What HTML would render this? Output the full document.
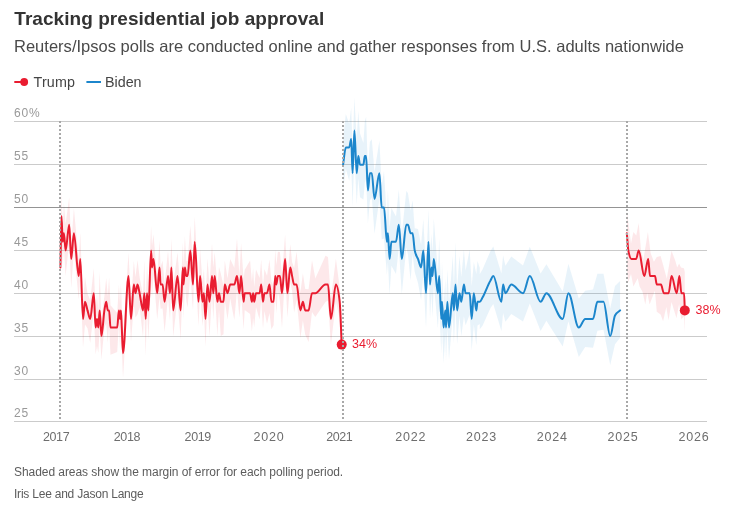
<!DOCTYPE html>
<html><head><meta charset="utf-8"><title>Tracking presidential job approval</title>
<style>
html,body{margin:0;padding:0;background:#fff}
body{width:741px;height:525px;position:relative;overflow:hidden;font-family:"Liberation Sans",sans-serif}
.t{position:absolute;white-space:nowrap;line-height:1}
.title{left:14.3px;top:9px;font-size:19px;font-weight:bold;color:#333;letter-spacing:0.05px}
.sub{left:14px;top:37.8px;font-size:16.5px;color:#4a4a4a;letter-spacing:0.015px}
.leg{font-size:14.3px;color:#454545;top:75px}
.yl{left:14px;font-size:12px;color:#999;letter-spacing:0.8px}
.xl{font-size:12.5px;color:#6e6e6e;top:431px}
.note{left:14px;font-size:12px;color:#5c5c5c}
.val{font-size:12.5px;color:#e91c30}
</style></head><body>
<svg width="741" height="525" viewBox="0 0 741 525" style="position:absolute;left:0;top:0">
<line x1="14" x2="707" y1="421.5" y2="421.5" stroke="#cbcbcb" stroke-width="1"/>
<line x1="14" x2="707" y1="379.5" y2="379.5" stroke="#cbcbcb" stroke-width="1"/>
<line x1="14" x2="707" y1="336.5" y2="336.5" stroke="#cbcbcb" stroke-width="1"/>
<line x1="14" x2="707" y1="293.5" y2="293.5" stroke="#cbcbcb" stroke-width="1"/>
<line x1="14" x2="707" y1="250.5" y2="250.5" stroke="#cbcbcb" stroke-width="1"/>
<line x1="14" x2="707" y1="207.5" y2="207.5" stroke="#949494" stroke-width="1"/>
<line x1="14" x2="707" y1="164.5" y2="164.5" stroke="#cbcbcb" stroke-width="1"/>
<line x1="14" x2="707" y1="121.5" y2="121.5" stroke="#cbcbcb" stroke-width="1"/>
<path d="M60.4,252.4 L61.5,190.6 L62.7,227.7 L63.9,203.3 L65.6,224.1 L69.2,197.3 L71.2,244.6 L73.9,208.5 L78.7,260.0 L80.3,232.7 L83.0,303.2 L85.0,276.8 L87.5,293.5 L90.2,300.2 L93.8,268.2 L95.6,310.0 L97.0,293.1 L98.3,310.1 L99.7,272.0 L101.4,319.0 L104.4,295.9 L106.2,278.1 L107.8,296.1 L109.1,277.5 L110.5,305.3 L117.2,313.0 L118.9,284.7 L120.0,302.9 L120.9,283.9 L121.8,306.2 L123.0,337.7 L128.5,252.7 L131.0,303.8 L133.8,261.0 L135.5,276.9 L137.5,259.9 L139.6,277.2 L143.0,295.2 L144.3,260.0 L145.7,302.9 L147.0,264.3 L148.4,292.4 L151.1,225.8 L152.0,245.8 L153.5,234.3 L157.2,279.4 L159.5,240.0 L160.6,266.8 L162.6,260.7 L164.6,284.1 L168.0,251.0 L170.0,276.0 L171.4,238.7 L173.2,285.1 L177.5,252.4 L180.6,291.1 L182.9,242.2 L183.6,265.3 L184.9,236.0 L186.3,261.3 L187.6,261.1 L190.3,225.4 L193.0,260.8 L194.7,216.4 L198.5,283.9 L200.1,249.1 L202.5,281.9 L203.9,269.0 L205.5,299.6 L207.5,258.5 L209.5,285.6 L212.0,243.3 L213.3,267.5 L214.7,252.2 L217.4,286.0 L219.0,267.0 L220.8,273.4 L223.5,286.0 L224.8,260.6 L227.5,278.6 L230.2,258.9 L234.3,267.8 L237.0,238.4 L239.4,275.6 L241.1,243.0 L243.6,279.0 L244.7,269.7 L250.1,260.4 L251.9,281.8 L253.1,268.1 L254.2,286.9 L256.0,269.6 L259.6,278.1 L261.2,259.4 L263.0,287.0 L264.4,269.0 L267.0,275.8 L269.5,259.4 L271.4,281.5 L273.6,286.3 L275.2,249.8 L276.3,265.2 L277.9,251.7 L279.9,252.0 L282.0,274.7 L285.1,234.4 L287.4,277.1 L290.3,244.3 L292.1,262.2 L294.1,267.9 L296.6,251.7 L300.4,292.4 L302.9,273.2 L305.2,289.0 L308.6,289.3 L312.0,260.3 L315.3,278.5 L325.5,255.8 L328.0,256.9 L330.9,298.8 L335.9,258.7 L339.7,287.7 L341.7,316.4 L341.7,360.6 L339.7,318.6 L335.9,301.5 L330.9,344.8 L328.0,300.5 L325.5,302.0 L315.3,317.0 L312.0,311.9 L308.6,341.9 L305.2,334.6 L302.9,320.6 L300.4,338.0 L296.6,300.1 L294.1,312.6 L292.1,291.1 L290.3,281.7 L287.4,317.6 L285.1,272.8 L282.0,328.2 L279.9,301.5 L277.9,291.3 L276.3,313.3 L275.2,290.9 L273.6,325.2 L271.4,329.3 L269.5,313.1 L267.0,323.7 L264.4,310.9 L263.0,328.7 L261.2,299.8 L259.6,319.6 L256.0,307.2 L254.2,327.2 L253.1,318.1 L251.9,331.4 L250.1,313.9 L244.7,310.1 L243.6,329.5 L241.1,293.3 L239.4,317.5 L237.0,290.3 L234.3,320.0 L230.2,298.5 L227.5,319.5 L224.8,300.6 L223.5,334.3 L220.8,336.0 L219.0,309.8 L217.4,335.8 L214.7,290.1 L213.3,320.0 L212.0,293.8 L209.5,336.5 L207.5,302.6 L205.5,346.2 L203.9,310.7 L202.5,326.1 L200.1,291.7 L198.5,326.0 L194.7,257.4 L193.0,310.5 L190.3,274.4 L187.6,307.8 L186.3,301.1 L184.9,284.8 L183.6,319.2 L182.9,281.8 L180.6,339.3 L177.5,298.1 L173.2,336.6 L171.4,285.5 L170.0,321.1 L168.0,297.5 L164.6,331.9 L162.6,308.6 L160.6,308.7 L159.5,297.3 L157.2,319.5 L153.5,274.2 L152.0,297.0 L151.1,279.5 L148.4,339.5 L147.0,308.1 L145.7,355.9 L144.3,309.2 L143.0,337.1 L139.6,307.3 L137.5,314.4 L135.5,317.5 L133.8,305.0 L131.0,342.1 L128.5,290.7 L123.0,378.1 L121.8,349.1 L120.9,327.0 L120.0,348.2 L118.9,324.3 L117.2,352.0 L110.5,354.8 L109.1,325.4 L107.8,342.8 L106.2,323.6 L104.4,327.8 L101.4,359.6 L99.7,327.6 L98.3,353.1 L97.0,345.9 L95.6,354.6 L93.8,311.0 L90.2,343.1 L87.5,328.3 L85.0,324.4 L83.0,347.6 L80.3,274.9 L78.7,299.5 L73.9,249.8 L71.2,288.1 L69.2,242.1 L65.6,276.1 L63.9,247.5 L62.7,265.2 L61.5,230.5 L60.4,284.0Z" fill="#e91c30" fill-opacity="0.1"/>
<path d="M343.1,140.1 L345.8,113.9 L349.2,123.7 L351.2,107.8 L352.6,149.7 L354.4,97.5 L356.7,139.2 L358.3,110.8 L360.0,133.5 L363.4,143.0 L364.8,121.3 L366.1,116.7 L367.9,169.4 L369.9,141.7 L371.8,139.3 L374.5,172.0 L379.4,140.7 L381.7,185.2 L384.0,171.0 L386.9,220.1 L387.9,190.5 L389.6,227.5 L391.4,207.9 L396.0,216.6 L398.8,189.8 L401.8,234.3 L406.3,191.0 L407.9,193.1 L410.6,210.5 L412.6,200.4 L414.7,228.3 L418.0,228.9 L421.1,244.7 L423.3,219.2 L426.0,269.2 L428.5,209.8 L430.0,254.3 L431.4,234.2 L432.5,253.0 L433.8,218.7 L437.9,272.2 L439.2,238.7 L441.3,295.7 L442.0,261.5 L443.6,306.4 L445.3,279.0 L446.0,305.3 L447.4,269.4 L449.0,302.8 L452.8,256.0 L453.9,285.9 L455.5,242.2 L457.1,288.2 L459.5,256.1 L461.3,277.0 L463.9,249.6 L465.6,270.5 L469.7,249.6 L471.7,286.2 L473.8,262.0 L476.3,274.0 L477.5,260.9 L479.8,268.0 L479.8,324.0 L477.5,325.6 L476.3,345.3 L473.8,324.6 L471.7,350.4 L469.7,314.5 L465.6,325.2 L463.9,316.5 L461.3,336.2 L459.5,316.0 L457.1,344.1 L455.5,306.2 L453.9,343.0 L452.8,315.1 L449.0,359.4 L447.4,327.9 L446.0,360.9 L445.3,334.0 L443.6,363.2 L442.0,325.2 L441.3,353.7 L439.2,302.8 L437.9,328.2 L433.8,283.7 L432.5,317.4 L431.4,292.2 L430.0,319.2 L428.5,264.3 L426.0,327.8 L423.3,275.1 L421.1,300.0 L418.0,282.9 L414.7,272.0 L412.6,254.6 L410.6,280.6 L407.9,254.0 L406.3,247.7 L401.8,294.0 L398.8,247.3 L396.0,273.9 L391.4,265.7 L389.6,294.5 L387.9,262.1 L386.9,274.8 L384.0,238.5 L381.7,239.5 L379.4,199.0 L374.5,233.7 L371.8,197.4 L369.9,200.5 L367.9,223.2 L366.1,178.7 L364.8,182.7 L363.4,199.6 L360.0,197.3 L358.3,178.6 L356.7,204.4 L354.4,154.8 L352.6,206.6 L351.2,164.4 L349.2,180.8 L345.8,168.7 L343.1,189.7Z" fill="#1c86cc" fill-opacity="0.1"/>
<path d="M479.8,274.0 L482.5,269.5 L490.5,250.9 L493.3,246.6 L501.4,273.6 L503.1,255.5 L505.4,265.7 L511.3,256.4 L523.0,265.4 L529.8,246.7 L540.6,273.5 L546.4,264.2 L562.7,291.4 L568.4,263.8 L578.8,298.5 L585.2,290.8 L593.0,289.5 L597.4,273.8 L603.5,273.7 L610.2,308.6 L615.0,286.1 L620.1,280.9 L620.1,337.8 L615.0,344.3 L610.2,365.1 L603.5,329.8 L597.4,330.8 L593.0,347.7 L585.2,346.9 L578.8,356.9 L568.4,321.2 L562.7,346.5 L546.4,320.7 L540.6,331.0 L529.8,303.6 L523.0,321.4 L511.3,314.0 L505.4,321.7 L503.1,313.0 L501.4,331.0 L493.3,303.9 L490.5,308.1 L482.5,325.7 L479.8,329.2Z" fill="#1c86cc" fill-opacity="0.1"/>
<path d="M626.9,212.0 L628.3,222.0 L631.0,243.6 L633.4,232.1 L636.3,235.5 L638.7,223.1 L641.0,250.2 L643.4,259.8 L647.9,232.1 L650.6,253.1 L653.9,261.7 L656.8,256.9 L660.6,256.0 L663.0,264.5 L666.8,278.8 L671.5,250.7 L675.3,260.7 L677.2,267.4 L679.1,263.6 L681.0,267.4 L683.9,268.3 L684.8,272.0 L684.8,332.0 L683.9,316.4 L681.2,319.3 L679.1,304.0 L676.5,318.3 L671.5,302.1 L668.5,320.2 L666.3,306.9 L663.1,321.2 L660.6,314.5 L656.8,311.7 L654.9,290.7 L653.0,295.5 L649.6,304.5 L647.2,292.6 L645.3,304.5 L642.5,291.7 L639.6,286.6 L637.7,278.3 L633.4,286.4 L631.0,274.0 L628.2,282.6 L626.9,270.0 Z" fill="#e91c30" fill-opacity="0.1"/>
<path d="M60.4,267.5C60.8,250.4 61.1,216.1 61.5,216.1C61.9,216.1 62.3,241.8 62.7,241.8C63.1,241.8 63.5,233.2 63.9,233.2C64.5,233.2 65.0,250.4 65.6,250.4C66.8,250.4 68.0,224.7 69.2,224.7C69.9,224.7 70.5,258.9 71.2,258.9C72.1,258.9 73.0,233.2 73.9,233.2C75.5,233.2 77.1,276.1 78.7,276.1C79.2,276.1 79.8,258.9 80.3,258.9C81.2,258.9 82.1,318.9 83.0,318.9C83.7,318.9 84.3,301.8 85.0,301.8C85.8,301.8 86.7,307.6 87.5,310.4C88.4,313.3 89.3,318.9 90.2,318.9C91.4,318.9 92.6,293.2 93.8,293.2C94.4,293.2 95.0,327.5 95.6,327.5C96.1,327.5 96.5,318.9 97.0,318.9C97.4,318.9 97.9,327.5 98.3,327.5C98.8,327.5 99.2,310.4 99.7,310.4C100.3,310.4 100.8,336.1 101.4,336.1C102.4,336.1 103.4,316.6 104.4,310.4C105.0,306.6 105.6,301.8 106.2,301.8C106.7,301.8 107.3,310.4 107.8,310.4C108.2,310.4 108.7,310.4 109.1,310.4C109.6,310.4 110.0,327.5 110.5,327.5C112.7,327.5 115.0,327.5 117.2,327.5C117.8,327.5 118.3,310.4 118.9,310.4C119.3,310.4 119.6,318.9 120.0,318.9C120.3,318.9 120.6,310.4 120.9,310.4C121.2,310.4 121.5,321.5 121.8,327.5C122.2,335.5 122.6,353.2 123.0,353.2C124.8,353.2 126.7,276.1 128.5,276.1C129.3,276.1 130.2,318.9 131.0,318.9C131.9,318.9 132.9,284.6 133.8,284.6C134.4,284.6 134.9,293.2 135.5,293.2C136.2,293.2 136.8,284.6 137.5,284.6C138.2,284.6 138.9,290.1 139.6,293.2C140.7,298.3 141.9,310.4 143.0,310.4C143.4,310.4 143.9,293.2 144.3,293.2C144.8,293.2 145.2,318.9 145.7,318.9C146.1,318.9 146.6,293.2 147.0,293.2C147.5,293.2 147.9,310.4 148.4,310.4C149.3,310.4 150.2,250.4 151.1,250.4C151.4,250.4 151.7,267.5 152.0,267.5C152.5,267.5 153.0,258.9 153.5,258.9C154.7,258.9 156.0,293.2 157.2,293.2C158.0,293.2 158.7,267.5 159.5,267.5C159.9,267.5 160.2,284.6 160.6,284.6C161.3,284.6 161.9,284.6 162.6,284.6C163.3,284.6 163.9,301.8 164.6,301.8C165.7,301.8 166.9,276.1 168.0,276.1C168.7,276.1 169.3,293.2 170.0,293.2C170.5,293.2 170.9,267.5 171.4,267.5C172.0,267.5 172.6,310.4 173.2,310.4C174.6,310.4 176.1,276.1 177.5,276.1C178.5,276.1 179.6,310.4 180.6,310.4C181.4,310.4 182.1,267.5 182.9,267.5C183.1,267.5 183.4,284.6 183.6,284.6C184.0,284.6 184.5,267.5 184.9,267.5C185.4,267.5 185.8,276.1 186.3,276.1C186.7,276.1 187.2,276.1 187.6,276.1C188.5,276.1 189.4,250.4 190.3,250.4C191.2,250.4 192.1,284.6 193.0,284.6C193.6,284.6 194.1,241.8 194.7,241.8C196.0,241.8 197.2,301.8 198.5,301.8C199.0,301.8 199.6,276.1 200.1,276.1C200.9,276.1 201.7,301.8 202.5,301.8C203.0,301.8 203.4,293.2 203.9,293.2C204.4,293.2 205.0,318.9 205.5,318.9C206.2,318.9 206.8,284.6 207.5,284.6C208.2,284.6 208.8,301.8 209.5,301.8C210.3,301.8 211.2,276.1 212.0,276.1C212.4,276.1 212.9,293.2 213.3,293.2C213.8,293.2 214.2,276.1 214.7,276.1C215.6,276.1 216.5,301.8 217.4,301.8C217.9,301.8 218.5,293.2 219.0,293.2C219.6,293.2 220.2,301.8 220.8,301.8C221.7,301.8 222.6,301.8 223.5,301.8C223.9,301.8 224.4,284.6 224.8,284.6C225.7,284.6 226.6,293.2 227.5,293.2C228.4,293.2 229.3,284.6 230.2,284.6C231.6,284.6 232.9,284.6 234.3,284.6C235.2,284.6 236.1,276.1 237.0,276.1C237.8,276.1 238.6,293.2 239.4,293.2C240.0,293.2 240.5,276.1 241.1,276.1C241.9,276.1 242.8,301.8 243.6,301.8C244.0,301.8 244.3,293.2 244.7,293.2C246.5,293.2 248.3,293.2 250.1,293.2C250.7,293.2 251.3,301.8 251.9,301.8C252.3,301.8 252.7,293.2 253.1,293.2C253.5,293.2 253.8,301.8 254.2,301.8C254.8,301.8 255.4,293.2 256.0,293.2C257.2,293.2 258.4,293.2 259.6,293.2C260.1,293.2 260.7,284.6 261.2,284.6C261.8,284.6 262.4,301.8 263.0,301.8C263.5,301.8 263.9,293.2 264.4,293.2C265.3,293.2 266.1,293.2 267.0,293.2C267.8,293.2 268.7,284.6 269.5,284.6C270.1,284.6 270.8,301.8 271.4,301.8C272.1,301.8 272.9,301.8 273.6,301.8C274.1,301.8 274.7,276.1 275.2,276.1C275.6,276.1 275.9,284.6 276.3,284.6C276.8,284.6 277.4,276.1 277.9,276.1C278.6,276.1 279.2,276.1 279.9,276.1C280.6,276.1 281.3,293.2 282.0,293.2C283.0,293.2 284.1,258.9 285.1,258.9C285.9,258.9 286.6,293.2 287.4,293.2C288.4,293.2 289.3,267.5 290.3,267.5C290.9,267.5 291.5,273.4 292.1,276.1C292.8,279.1 293.4,284.6 294.1,284.6C294.9,284.6 295.8,284.6 296.6,284.6C297.9,284.6 299.1,310.4 300.4,310.4C301.2,310.4 302.1,301.8 302.9,301.8C303.7,301.8 304.4,310.4 305.2,310.4C306.3,310.4 307.5,310.4 308.6,310.4C309.7,310.4 310.9,293.2 312.0,293.2C313.1,293.2 314.2,293.2 315.3,293.2C318.7,293.2 322.1,284.6 325.5,284.6C326.3,284.6 327.2,284.6 328.0,284.6C329.0,284.6 329.9,318.9 330.9,318.9C332.6,318.9 334.2,284.6 335.9,284.6C337.2,284.6 338.4,290.4 339.7,301.8C340.4,307.8 341.0,330.4 341.7,344.6" fill="none" stroke="#e91c30" stroke-width="2" stroke-linejoin="round" stroke-linecap="round"/>
<path d="M343.1,164.7C344.0,158.9 344.9,147.5 345.8,147.5C346.9,147.5 348.1,147.5 349.2,147.5C349.9,147.5 350.5,138.9 351.2,138.9C351.7,138.9 352.1,173.2 352.6,173.2C353.2,173.2 353.8,130.4 354.4,130.4C355.2,130.4 355.9,173.2 356.7,173.2C357.2,173.2 357.8,156.1 358.3,156.1C358.9,156.1 359.4,164.7 360.0,164.7C361.1,164.7 362.3,164.7 363.4,164.7C363.9,164.7 364.3,156.1 364.8,156.1C365.2,156.1 365.7,156.1 366.1,156.1C366.7,156.1 367.3,190.4 367.9,190.4C368.6,190.4 369.2,173.2 369.9,173.2C370.5,173.2 371.2,173.2 371.8,173.2C372.7,173.2 373.6,198.9 374.5,198.9C376.1,198.9 377.8,173.2 379.4,173.2C380.2,173.2 380.9,207.5 381.7,207.5C382.5,207.5 383.2,207.5 384.0,207.5C385.0,207.5 385.9,241.8 386.9,241.8C387.2,241.8 387.6,233.2 387.9,233.2C388.5,233.2 389.0,258.9 389.6,258.9C390.2,258.9 390.8,241.8 391.4,241.8C392.9,241.8 394.5,241.8 396.0,241.8C396.9,241.8 397.9,224.7 398.8,224.7C399.8,224.7 400.8,258.9 401.8,258.9C403.3,258.9 404.8,224.7 406.3,224.7C406.8,224.7 407.4,224.7 407.9,224.7C408.8,224.7 409.7,233.2 410.6,233.2C411.3,233.2 411.9,233.2 412.6,233.2C413.3,233.2 414.0,246.7 414.7,250.4C415.8,256.1 416.9,256.0 418.0,258.9C419.0,261.7 420.1,267.5 421.1,267.5C421.8,267.5 422.6,250.4 423.3,250.4C424.2,250.4 425.1,293.2 426.0,293.2C426.8,293.2 427.7,241.8 428.5,241.8C429.0,241.8 429.5,284.6 430.0,284.6C430.5,284.6 430.9,267.5 431.4,267.5C431.8,267.5 432.1,276.1 432.5,276.1C432.9,276.1 433.4,258.9 433.8,258.9C435.2,258.9 436.5,293.2 437.9,293.2C438.3,293.2 438.8,276.1 439.2,276.1C439.9,276.1 440.6,318.9 441.3,318.9C441.5,318.9 441.8,301.8 442.0,301.8C442.5,301.8 443.1,327.5 443.6,327.5C444.2,327.5 444.7,310.4 445.3,310.4C445.5,310.4 445.8,327.5 446.0,327.5C446.5,327.5 446.9,301.8 447.4,301.8C447.9,301.8 448.5,327.5 449.0,327.5C450.3,327.5 451.5,293.2 452.8,293.2C453.2,293.2 453.5,310.4 453.9,310.4C454.4,310.4 455.0,284.6 455.5,284.6C456.0,284.6 456.6,310.4 457.1,310.4C457.9,310.4 458.7,293.2 459.5,293.2C460.1,293.2 460.7,301.8 461.3,301.8C462.2,301.8 463.0,284.6 463.9,284.6C464.5,284.6 465.0,293.2 465.6,293.2C467.0,293.2 468.3,293.2 469.7,293.2C470.4,293.2 471.0,318.9 471.7,318.9C472.4,318.9 473.1,293.2 473.8,293.2C474.6,293.2 475.5,310.4 476.3,310.4C476.7,310.4 477.1,301.8 477.5,301.8C478.3,301.8 479.0,301.8 479.8,301.8C480.7,301.8 481.6,299.1 482.5,297.5C485.2,292.9 487.8,284.9 490.5,280.4C491.4,278.8 492.4,276.1 493.3,276.1C496.0,276.1 498.7,301.8 501.4,301.8C502.0,301.8 502.5,284.6 503.1,284.6C503.9,284.6 504.6,293.2 505.4,293.2C507.4,293.2 509.3,284.6 511.3,284.6C515.2,284.6 519.1,293.2 523.0,293.2C525.3,293.2 527.5,276.1 529.8,276.1C533.4,276.1 537.0,301.8 540.6,301.8C542.5,301.8 544.5,293.2 546.4,293.2C551.8,293.2 557.3,318.9 562.7,318.9C564.6,318.9 566.5,293.2 568.4,293.2C571.9,293.2 575.3,327.5 578.8,327.5C580.9,327.5 583.1,318.9 585.2,318.9C587.8,318.9 590.4,318.9 593.0,318.9C594.5,318.9 595.9,301.8 597.4,301.8C599.4,301.8 601.5,301.8 603.5,301.8C605.7,301.8 608.0,336.1 610.2,336.1C611.8,336.1 613.4,318.7 615.0,315.5C616.7,312.1 618.4,312.1 620.1,310.4" fill="none" stroke="#1c86cc" stroke-width="2" stroke-linejoin="round" stroke-linecap="round"/>
<path d="M626.8,233.2C627.3,238.9 627.8,247.7 628.3,250.4C629.4,256.1 630.4,258.9 631.5,258.9C633.1,258.9 634.6,258.9 636.2,258.9C637.0,258.9 637.9,250.4 638.7,250.4C640.6,250.4 642.4,276.1 644.3,276.1C645.6,276.1 646.9,258.9 648.2,258.9C648.8,258.9 649.4,276.1 650.0,276.1C651.7,276.1 653.3,276.1 655.0,276.1C655.6,276.1 656.2,284.6 656.8,284.6C658.2,284.6 659.6,284.6 661.0,284.6C661.9,284.6 662.9,293.2 663.8,293.2C665.4,293.2 667.0,293.2 668.6,293.2C669.6,293.2 670.6,276.1 671.6,276.1C673.3,276.1 675.0,293.2 676.7,293.2C677.6,293.2 678.5,276.1 679.4,276.1C680.1,276.1 680.7,293.2 681.4,293.2C682.3,293.2 683.2,293.2 684.1,293.2C684.3,293.2 684.6,304.6 684.8,310.4" fill="none" stroke="#e91c30" stroke-width="2" stroke-linejoin="round" stroke-linecap="round"/>
<circle cx="341.7" cy="344.6" r="5" fill="#e91c30"/>
<circle cx="684.8" cy="310.4" r="5" fill="#e91c30"/>
<line x1="60.0" x2="60.0" y1="121" y2="421" stroke="#a8a8a8" stroke-width="2" stroke-dasharray="2,2"/>
<line x1="343.0" x2="343.0" y1="121" y2="421" stroke="#a8a8a8" stroke-width="2" stroke-dasharray="2,2"/>
<line x1="627.0" x2="627.0" y1="121" y2="421" stroke="#a8a8a8" stroke-width="2" stroke-dasharray="2,2"/>
<line x1="14.3" x2="26" y1="82" y2="82" stroke="#e91c30" stroke-width="2"/>
<circle cx="24.2" cy="82" r="3.9" fill="#e91c30"/>
<line x1="86.4" x2="101" y1="82" y2="82" stroke="#1c86cc" stroke-width="2"/>
</svg>
<div class="t title" id="title">Tracking presidential job approval</div>
<div class="t sub" id="sub">Reuters/Ipsos polls are conducted online and gather responses from U.S. adults nationwide</div>
<div class="t leg" id="l1" style="left:33.5px;letter-spacing:0.2px">Trump</div>
<div class="t leg" id="l2" style="left:105px">Biden</div>
<div class="t yl" style="top:406.9px">25</div>
<div class="t yl" style="top:364.9px">30</div>
<div class="t yl" style="top:321.9px">35</div>
<div class="t yl" style="top:278.9px">40</div>
<div class="t yl" style="top:235.9px">45</div>
<div class="t yl" style="top:192.9px">50</div>
<div class="t yl" style="top:149.9px">55</div>
<div class="t yl" style="top:106.9px">60%</div>
<div class="t xl" style="left:26.3px;width:60px;text-align:center;letter-spacing:-0.4px;text-indent:-0.4px">2017</div>
<div class="t xl" style="left:97.1px;width:60px;text-align:center;letter-spacing:-0.4px;text-indent:-0.4px">2018</div>
<div class="t xl" style="left:167.9px;width:60px;text-align:center;letter-spacing:-0.4px;text-indent:-0.4px">2019</div>
<div class="t xl" style="left:238.7px;width:60px;text-align:center;letter-spacing:0.8px;text-indent:0.8px">2020</div>
<div class="t xl" style="left:309.5px;width:60px;text-align:center;letter-spacing:-0.4px;text-indent:-0.4px">2021</div>
<div class="t xl" style="left:380.3px;width:60px;text-align:center;letter-spacing:0.8px;text-indent:0.8px">2022</div>
<div class="t xl" style="left:451.1px;width:60px;text-align:center;letter-spacing:0.8px;text-indent:0.8px">2023</div>
<div class="t xl" style="left:521.9px;width:60px;text-align:center;letter-spacing:0.8px;text-indent:0.8px">2024</div>
<div class="t xl" style="left:592.7px;width:60px;text-align:center;letter-spacing:0.8px;text-indent:0.8px">2025</div>
<div class="t xl" style="left:663.5px;width:60px;text-align:center;letter-spacing:0.8px;text-indent:0.8px">2026</div>
<div class="t val" id="v1" style="left:352px;top:338px">34%</div>
<div class="t val" id="v2" style="left:695.5px;top:304px">38%</div>
<div class="t note" id="n1" style="top:466px;letter-spacing:-0.06px">Shaded areas show the margin of error for each polling period.</div>
<div class="t note" id="n2" style="top:488px;letter-spacing:-0.22px">Iris Lee and Jason Lange</div>
</body></html>
